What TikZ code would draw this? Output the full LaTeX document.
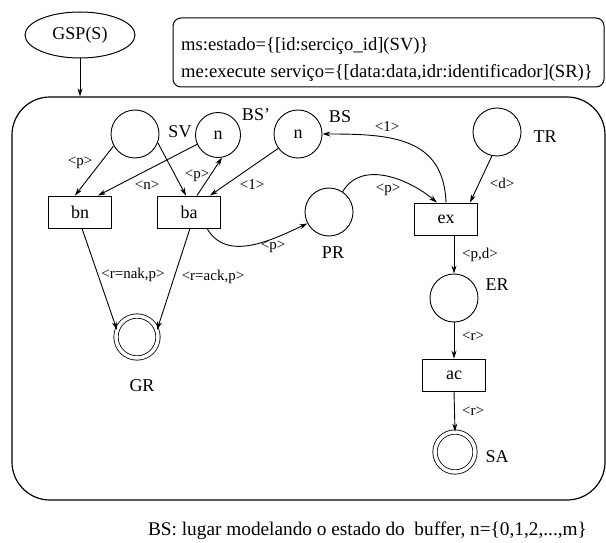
\documentclass[tikz,border=0pt]{standalone}
\usepackage{fontspec}
\setmainfont{Liberation Serif}
\usetikzlibrary{arrows.meta,shapes.geometric,calc}
\begin{document}
\begin{tikzpicture}[x=1bp,y=-1bp,
  every node/.style={font=\fontsize{18bp}{20bp}\selectfont, inner sep=0pt},
  place/.style={circle,draw,line width=0.9bp,minimum size=48bp},
  finalplace/.style={circle,draw,line width=0.8bp,double,double distance=3.5bp,minimum size=42bp},
  trans/.style={rectangle,draw,line width=0.9bp,minimum width=63bp,minimum height=32bp},
  lbl/.style={font=\fontsize{15bp}{17bp}\selectfont},
  decltext/.style={anchor=west,font=\fontsize{18.6bp}{20bp}\selectfont},
  arc/.style={line width=0.9bp,-{Stealth[length=8bp,width=5bp]}},
]
\useasboundingbox (0,0) rectangle (606,543);
% header
\node[ellipse,draw,line width=1bp,minimum width=110bp,minimum height=46bp] (gsp) at (80,35) {GSP(S)};
\node[draw,rounded corners=8bp,line width=1bp,minimum width=431bp,minimum height=69bp] (decl) at (388.5,52.5) {};
\node[decltext] (ms) at (181,46) {ms:estado=\{[id:serciço\_id](SV)\}};
\node[decltext] (me) at (181,73) {me:execute serviço=\{[data:data,idr:identificador](SR)\}};
\node[draw,rounded corners=38bp,line width=1.2bp,minimum width=593bp,minimum height=403bp] (page) at (308.5,298.5) {};
\draw[arc] (gsp.south) -- (gsp.south |- page.north);
% places
\node[place] (SV) at (135,134) {};
\node[place,minimum size=45bp] (BSp) at (218,135) {n};
\node[place] (BS) at (298,134) {n};
\node[place] (TR) at (497,132) {};
\node[place] (PR) at (329,212) {};
\node[place] (ER) at (454,298) {};
\node[finalplace] (GR) at (137,337) {};
\node[finalplace,minimum size=40bp] (SA) at (455,452) {};
% place names
\node (nSV) at (180,132) {SV};
\node (nBSp) at (256,115) {BS'};
\node (nBS) at (340,117) {BS};
\node (nTR) at (545,137) {TR};
\node (nPR) at (333,253) {PR};
\node (nER) at (497,285) {ER};
\node (nGR) at (142,386) {GR};
\node (nSA) at (497,457) {SA};
% transitions
\node[trans] (bn) at (80,212) {bn};
\node[trans] (ba) at (189,212) {ba};
\node[trans] (ex) at (446,219) {ex};
\node[trans] (ac) at (454,375) {ac};
% arcs
\draw[arc] (SV.209) -- ($(bn.north)+(-5,0)$);
\draw[arc] (BSp.204) -- ($(bn.north)+(18,0)$);
\draw[arc] (SV.-21) -- ($(ba.north)+(-3,0)$);
\draw[arc] ($(ba.north)+(8,0)$) -- (BSp.-80);
\draw[arc] (BS.216) -- ($(ba.north)+(21,0)$);
\draw[arc] ($(ba.south)+(18,0)$) to[out=-60,in=205] (PR.208);
\draw[arc] (PR.56) to[out=60,in=140] ($(ex.north)+(-9,0)$);
\draw[arc] (ex.north) to[out=92,in=0,looseness=1.2] (BS.east);
\draw[arc] (TR.-102) -- ($(ex.north)+(24,0)$);
\draw[arc] ($(ex.south)+(8,0)$) -- (ER.north);
\draw[arc] (ER.south) -- (ac.north);
\draw[arc] (ac.south) -- (SA.north);
\draw[arc] ($(bn.south)+(2,0)$) -- (GR.160);
\draw[arc] ($(ba.south)+(1,0)$) -- (GR.20);
% arc labels
\node[lbl] (l1) at (80,163) {<p>};
\node[lbl] (l2) at (147,185) {<n>};
\node[lbl] (l3) at (197,176) {<p>};
\node[lbl] (l4) at (252,185) {<1>};
\node[lbl] (l5) at (273,247) {<p>};
\node[lbl] (l6) at (388,190) {<p>};
\node[lbl] (l7) at (387,127) {<1>};
\node[lbl] (l8) at (502,183) {<d>};
\node[lbl] (l9) at (480,255) {<p,d>};
\node[lbl] (l10) at (473,336) {<r>};
\node[lbl] (l11) at (473,411) {<r>};
\node[lbl] (l12) at (133,275) {<r=nak,p>};
\node[lbl] (l13) at (213,277) {<r=ack,p>};
% footer
\node[font=\fontsize{19.3bp}{21bp}\selectfont] (foot) at (367.5,531) {BS: lugar modelando o estado do\ \ buffer, n=\{0,1,2,...,m\}};
\end{tikzpicture}
\end{document}
